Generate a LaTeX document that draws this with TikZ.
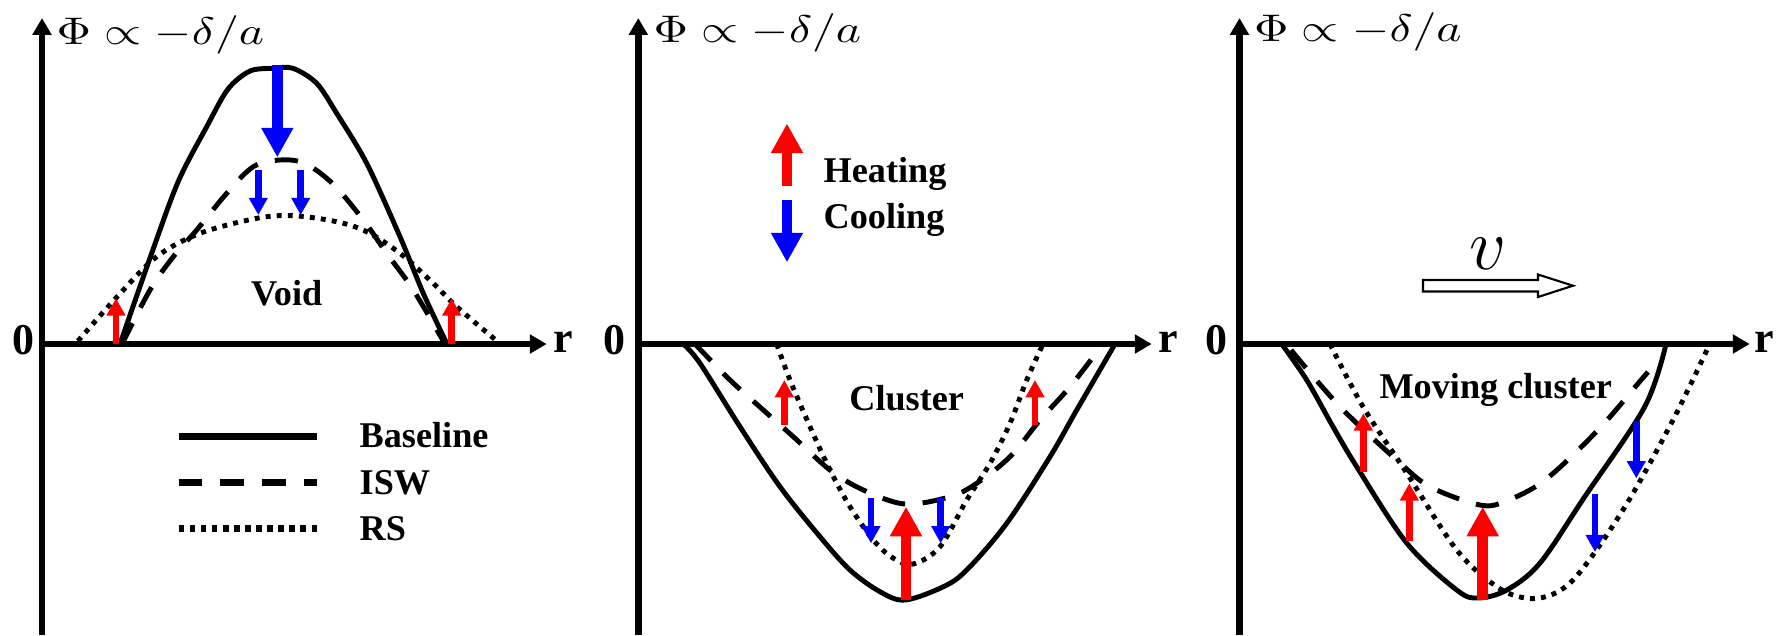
\documentclass[tikz,border=0pt]{standalone}
\usepackage{fontspec}
\setmainfont{Liberation Serif}
\usetikzlibrary{arrows.meta}
\definecolor{pred}{RGB}{255,0,0}
\definecolor{pblue}{RGB}{0,0,255}
\begin{document}
\begin{tikzpicture}[x=0.01cm,y=-0.01cm,
  axis/.style={line width=1.85pt,-{Triangle[length=4.8pt,width=5.2pt]}},
  curve/.style={line width=1.4pt,line join=round},
  isw/.style={curve,dash pattern=on 6.6pt off 5pt},
  rs/.style={curve,dash pattern=on 1.4pt off 1.75pt},
  legline/.style={line width=2pt},
  lbl/.style={font=\fontsize{10.3}{12}\selectfont\bfseries,inner sep=0pt},
  axlbl/.style={font=\fontsize{12.5}{14}\selectfont\bfseries,inner sep=0pt},
  philbl/.style={inner sep=0pt,anchor=base west},
  bigarr/.style={line width=3pt,-{Triangle[length=8.4pt,width=8.6pt]}},
  smallarr/.style={line width=1.85pt,-{Triangle[length=4.9pt,width=5.1pt]}},
  heat/.style={draw=pred,fill=pred},
  cool/.style={draw=pblue,fill=pblue},
  hollow/.style={line width=0.6pt,line join=miter}
]
\useasboundingbox (0,0) rectangle (1788,635);
\newcommand{\philabel}{\scalebox{1.24}[1]{\fontsize{10.8}{12}\selectfont$\Phi\propto-\delta/a$}}

% ---------------- Panel 1: Void ----------------
\draw[axis] (42,635) -- (42,18);
\draw[axis] (42,344) -- (546.7,344);
\node[philbl] (phi1) at (56,44) {\philabel};
\node[axlbl,anchor=base] (zero1) at (23,354) {0};
\node[axlbl,anchor=base west] (r1) at (552.7,352.5) {r};

\draw[curve] plot[smooth,tension=0.5] coordinates {(120,344) (150,258) (178,182) (206.7,126.7) (228,89) (250,71) (273,68.3) (293,68.3) (316.7,83.3) (336.7,113.3) (366.7,163.3) (400,236.7) (423.3,293.3) (447,344)};
\draw[isw] plot[smooth,tension=0.55] coordinates {(122,344) (150,290) (173.3,256.7) (196.7,230) (226.7,193.3) (253.3,166.7) (280,160) (305,163.5) (333,184) (363.3,220) (386.7,253.3) (413.3,290) (445,344)};
\draw[rs] plot[smooth,tension=0.55] coordinates {(78,341) (116,298) (156.7,256.7) (200,233.3) (256.7,218.3) (293.3,215.7) (336.7,221.7) (366.7,231.7) (400,253.3) (433.3,283.3) (456.7,306.7) (497,341)};

\draw[bigarr,cool] (277.3,65) -- (277.3,157.3);
\draw[smallarr,cool] (258.3,170) -- (258.3,215);
\draw[smallarr,cool] (300.7,170) -- (300.7,215);
\draw[smallarr,heat] (116,344) -- (116,298.3);
\draw[smallarr,heat] (451.7,344) -- (451.7,298.3);
\node[lbl,anchor=base] (void) at (286.7,305) {Void};

% legend
\draw[legline] (178.6,436) -- (317,436);
\draw[legline,dash pattern=on 6.6pt off 5.3pt] (178.6,482.6) -- (317,482.6);
\draw[legline,dash pattern=on 1.6pt off 1.55pt] (178.6,528) -- (317,528);
\node[lbl,anchor=base west] (lbase) at (359,447.4) {Baseline};
\node[lbl,anchor=base west] (lisw) at (359,494) {ISW};
\node[lbl,anchor=base west] (lrs) at (359,540.5) {RS};

% ---------------- Panel 2: Cluster ----------------
\draw[axis] (638.3,635) -- (638.3,18);
\draw[axis] (638.3,344) -- (1151.7,344);
\node[philbl] (phi2) at (653,42.5) {\philabel};
\node[axlbl,anchor=base] (zero2) at (614,354) {0};
\node[axlbl,anchor=base west] (r2) at (1157.7,352.5) {r};

\draw[curve] plot[smooth,tension=0.55] coordinates {(683.3,344) (700,363.3) (740,426.7) (780,486.7) (820,536.7) (850,570) (880,591.7) (905,600) (943.3,586.7) (966.7,570) (1006.7,523.3) (1050,456.7) (1076.7,410) (1115,344)};
\draw[isw] plot[smooth,tension=0.55] coordinates {(695,344) (730,380) (763.3,410) (793.3,436.7) (830,470) (863.3,490) (905,504) (950,496.7) (976.7,483.3) (1010,456.7) (1040,420) (1070,386.7) (1103,344)};
\draw[rs] plot[smooth,tension=0.55] coordinates {(776.7,344) (790,380) (810,426.7) (830,470) (850,506.7) (873.3,540) (893,558) (913,564) (940,546.7) (966.7,500) (990,463.3) (1010,423.3) (1026.7,380) (1043,344)};

\draw[smallarr,heat] (784.3,425) -- (784.3,380);
\draw[smallarr,heat] (1035,425) -- (1035,380);
\draw[smallarr,cool] (871,498.3) -- (871,543.3);
\draw[smallarr,cool] (940.7,498.3) -- (940.7,543.3);
\draw[bigarr,heat] (906,600) -- (906,506.7);
\node[lbl,anchor=base] (cluster) at (906.7,410) {Cluster};

% heating / cooling key
\draw[bigarr,heat] (787,186) -- (787,123.5);
\draw[bigarr,cool] (787,200.4) -- (787,262.3);
\node[lbl,anchor=base west] (heating) at (823,182) {Heating};
\node[lbl,anchor=base west] (cooling) at (823,228.7) {Cooling};

% ---------------- Panel 3: Moving cluster ----------------
\draw[axis] (1239.5,635) -- (1239.5,18);
\draw[axis] (1239.5,344) -- (1749.7,344);
\node[philbl] (phi3) at (1253.5,41) {\philabel};
\node[axlbl,anchor=base] (zero3) at (1216,354) {0};
\node[axlbl,anchor=base west] (r3) at (1753.5,352.5) {r};

\draw[curve] plot[smooth,tension=0.55] coordinates {(1281.7,344) (1306.7,380) (1333,426.7) (1356.7,466.7) (1406.7,543) (1456.7,590) (1478,598) (1506.7,590) (1540,563) (1584.7,496.7) (1644.7,406.7) (1666,344)};
\draw[isw] plot[smooth,tension=0.55] coordinates {(1291,350) (1340,406.7) (1396.7,460) (1430,486.7) (1480,505) (1506,501) (1545,480) (1598,430) (1641,380) (1648,372)};
\draw[rs] plot[smooth,tension=0.55] coordinates {(1330,344) (1363,406.7) (1406.7,473) (1456.7,550) (1496.7,586.7) (1525,598) (1548,596) (1570,583) (1595,552) (1631,496.7) (1674.7,416.7) (1709.7,344)};

\draw[smallarr,heat] (1363.3,471.7) -- (1363.3,413.3);
\draw[smallarr,heat] (1409.3,540.7) -- (1409.3,483.3);
\draw[bigarr,heat] (1482.7,600) -- (1482.7,506.7);
\draw[smallarr,cool] (1636.3,420.7) -- (1636.3,478.3);
\draw[smallarr,cool] (1595,494) -- (1595,552);
\node[lbl,anchor=base] (moving) at (1495.7,398) {Moving cluster};

% velocity arrow
\draw[hollow] (1423,280) -- (1538,280) -- (1538,274.5) -- (1573,285.7) -- (1538,297) -- (1538,291.5) -- (1423,291.5) -- cycle;
\node[inner sep=0pt,anchor=base] (vel) at (1488,269) {\fontsize{21}{22}\selectfont$v$};
\end{tikzpicture}
\end{document}
